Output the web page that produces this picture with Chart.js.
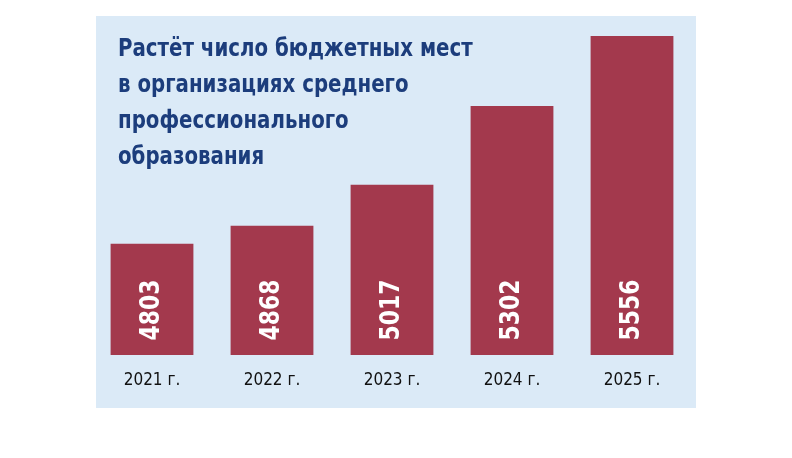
<!DOCTYPE html>
<html><head><meta charset="utf-8">
<script src="https://cdn.jsdelivr.net/npm/chart.js@4"></script>
<style>
body{margin:0;background:#fff;width:792px;height:458px;overflow:hidden}
#wrap{position:relative;width:792px;height:458px}
#title{position:absolute;left:118px;top:30px;font-family:"DejaVu Sans Condensed","DejaVu Sans";font-weight:bold;font-size:25px;line-height:36px;color:#1c3d7c;transform:scaleX(0.88);transform-origin:left top;white-space:nowrap}
</style></head>
<body><div id="wrap"><canvas id="c" width="792" height="458"></canvas>
<div id="title">Растёт число бюджетных мест<br>в организациях среднего<br>профессионального<br>образования</div></div>
<script>
let years = ['2021 г.', '2022 г.', '2023 г.', '2024 г.', '2025 г.']
let places = [4803, 4868, 5017, 5302, 5556]

// light blue panel behind everything
const panel = {
  id: 'panel',
  beforeDraw(chart) {
    const ctx = chart.ctx
    ctx.save()
    ctx.fillStyle = '#dbeaf7'
    ctx.fillRect(96, 16, 600, 392)
    ctx.restore()
  }
}

// numbers inside bars and years under them
const labels = {
  id: 'labels',
  afterDatasetsDraw(chart) {
    const ctx = chart.ctx
    const meta = chart.getDatasetMeta(0)
    const x = chart.scales.x
    const bottom = chart.chartArea.bottom
    ctx.save()
    meta.data.forEach((bar, i) => {
      ctx.save()
      ctx.translate(bar.x, bottom - 45)
      ctx.rotate(-Math.PI / 2)
      ctx.fillStyle = '#fff'
      ctx.font = 'bold 27px "DejaVu Sans Condensed"'
      ctx.textAlign = 'center'
      ctx.textBaseline = 'middle'
      ctx.scale(0.9, 1)
      ctx.fillText(places[i], 0, 0)
      ctx.restore()
      ctx.fillStyle = '#111'
      ctx.font = '17px "Liberation Sans Narrow", "DejaVu Sans Condensed"'
      ctx.textAlign = 'center'
      ctx.textBaseline = 'middle'
      ctx.fillText(years[i], x.getPixelForValue(i), 381)
    })
    ctx.restore()
  }
}

new Chart(document.getElementById('c'), {
  type: 'bar',
  data: {
    labels: years,
    datasets: [{ data: places, backgroundColor: '#a3394d', barPercentage: 0.69, categoryPercentage: 1 }]
  },
  options: {
    responsive: false,
    animation: false,
    layout: { padding: { left: 92, right: 100, top: 16, bottom: 103 } },
    plugins: { legend: { display: false }, tooltip: { enabled: false } },
    scales: {
      x: { display: false },
      y: { display: false, min: 4400, max: 5628 }
    }
  },
  plugins: [panel, labels]
})
</script></body></html>
